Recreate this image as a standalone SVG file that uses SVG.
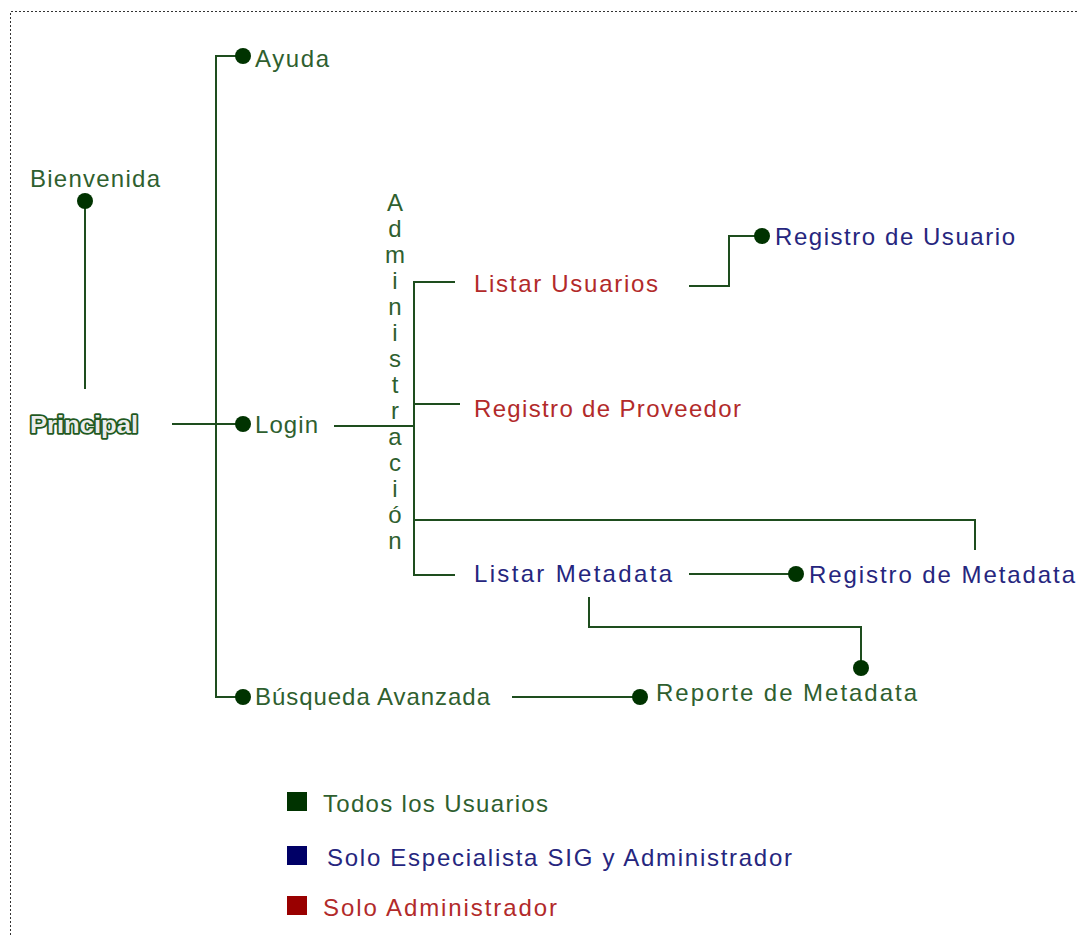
<svg xmlns="http://www.w3.org/2000/svg" width="1079" height="935" viewBox="0 0 1079 935">
<style>
.t{font-family:"Liberation Sans",Arial,sans-serif;font-size:24px;}
.g{fill:#2f5f2f;}
.r{fill:#b22a2a;}
.b{fill:#26267e;}
.ln{stroke:#1e4d1e;stroke-width:2;fill:none;}
.dot{fill:#003300;}
.border{stroke:#333;stroke-width:1;stroke-dasharray:2,2;fill:none;}
</style>
<rect width="1079" height="935" fill="#fff"/>
<path class="border" d="M10.5 935 V11.5 H1079"/>
<g id="connectors">
<path class="ln" d="M243 56 H216 V697 H243"/>
<path class="ln" d="M85 201 V389"/>
<path class="ln" d="M172 424 H243"/>
<path class="ln" d="M334 426 H414"/>
<path class="ln" d="M455 282 H414 V575 H455"/>
<path class="ln" d="M414 404 H460"/>
<path class="ln" d="M414 520 H975 V550"/>
<path class="ln" d="M689 286 H729 V236 H762"/>
<path class="ln" d="M689 574 H796"/>
<path class="ln" d="M589 597 V627 H861 V668"/>
<path class="ln" d="M512 697 H640"/>
</g>
<g id="ayuda"><circle class="dot" cx="243" cy="56" r="8"/><text class="t g" x="255" y="67" textLength="74" lengthAdjust="spacing">Ayuda</text></g>
<g id="bienvenida"><circle class="dot" cx="85" cy="201" r="8"/><text class="t g" x="30" y="187" textLength="130" lengthAdjust="spacing">Bienvenida</text></g>
<g id="principal"><text x="30" y="433" font-family="Liberation Sans,Arial,sans-serif" font-size="24" font-weight="bold" fill="#ececec" stroke="#1f5a1f" stroke-width="3.5" stroke-linejoin="round" paint-order="stroke" textLength="108" lengthAdjust="spacingAndGlyphs">Principal</text></g>
<g id="login"><circle class="dot" cx="243" cy="424" r="8"/><text class="t g" x="255" y="433" textLength="63" lengthAdjust="spacing">Login</text></g>
<g id="administracion" class="t g" text-anchor="middle">
<text x="395" y="211">A</text><text x="395" y="237">d</text><text x="395" y="263">m</text><text x="395" y="289">i</text><text x="395" y="315">n</text><text x="395" y="341">i</text><text x="395" y="367">s</text><text x="395" y="393">t</text><text x="395" y="419">r</text><text x="395" y="445">a</text><text x="395" y="471">c</text><text x="395" y="497">i</text><text x="395" y="523">ó</text><text x="395" y="549">n</text>
</g>
<g id="listar-usuarios"><text class="t r" x="474" y="292" textLength="184" lengthAdjust="spacing">Listar Usuarios</text></g>
<g id="registro-usuario"><circle class="dot" cx="762" cy="236" r="8"/><text class="t b" x="775" y="245" textLength="240" lengthAdjust="spacing">Registro de Usuario</text></g>
<g id="registro-proveedor"><text class="t r" x="474" y="417" textLength="267" lengthAdjust="spacing">Registro de Proveedor</text></g>
<g id="listar-metadata"><text class="t b" x="474" y="582" textLength="198" lengthAdjust="spacing">Listar Metadata</text></g>
<g id="registro-metadata"><circle class="dot" cx="796" cy="574" r="8"/><text class="t b" x="809" y="583" textLength="266" lengthAdjust="spacing">Registro de Metadata</text></g>
<g id="busqueda"><circle class="dot" cx="243" cy="697" r="8"/><text class="t g" x="255" y="705" textLength="235" lengthAdjust="spacing">Búsqueda Avanzada</text></g>
<g id="reporte"><circle class="dot" cx="640" cy="697" r="8"/><circle class="dot" cx="861" cy="668" r="8"/><text class="t g" x="656" y="701" textLength="261" lengthAdjust="spacing">Reporte de Metadata</text></g>
<g id="legend">
<rect x="287" y="792" width="20" height="19" fill="#003300"/><text class="t g" x="323" y="812" textLength="225" lengthAdjust="spacing">Todos los Usuarios</text>
<rect x="287" y="846" width="20" height="19" fill="#000066"/><text class="t b" x="327" y="866" textLength="465" lengthAdjust="spacing">Solo Especialista SIG y Administrador</text>
<rect x="287" y="896" width="20" height="19" fill="#990000"/><text class="t r" x="323" y="916" textLength="234" lengthAdjust="spacing">Solo Administrador</text>
</g>
</svg>
